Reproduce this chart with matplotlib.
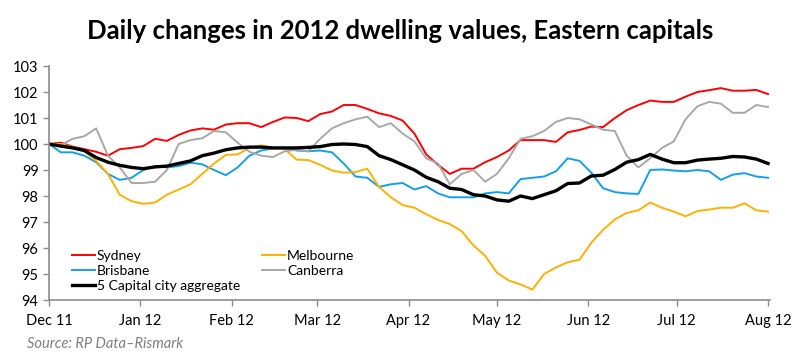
import numpy as np
import pandas as pd
import matplotlib
matplotlib.use("Agg")
import matplotlib.pyplot as plt
import matplotlib.dates as mdates

plt.rcParams['font.family'] = ['Lato', 'DejaVu Sans']

# days since 1 Dec 2011, one reading every 4 days
days = list(range(0, 245, 4))

sydney = [100.0, 100.05, 99.9, 99.8, 99.7, 99.55, 99.8, 99.85, 99.92, 100.2,
          100.12, 100.35, 100.52, 100.6, 100.55, 100.75, 100.8, 100.8, 100.65, 100.85,
          101.02, 101.0, 100.88, 101.15, 101.25, 101.5, 101.5, 101.35, 101.18, 101.08,
          100.9, 100.4, 99.6, 99.2, 98.85, 99.05, 99.05, 99.3, 99.5, 99.75,
          100.15, 100.15, 100.15, 100.08, 100.45, 100.54, 100.67, 100.65, 101.0, 101.3,
          101.5, 101.67, 101.62, 101.62, 101.82, 102.0, 102.07, 102.15, 102.05, 102.05,
          102.08, 101.92]

melbourne = [100.0, 100.0, 99.88, 99.72, 99.35, 98.85, 98.05, 97.8, 97.7, 97.75,
             98.05, 98.25, 98.45, 98.85, 99.25, 99.58, 99.6, 99.85, 99.95, 99.85,
             99.8, 99.4, 99.38, 99.2, 98.98, 98.9, 98.92, 99.05, 98.35, 97.95,
             97.65, 97.55, 97.3, 97.08, 96.92, 96.65, 96.1, 95.7, 95.05, 94.75,
             94.6, 94.4, 95.0, 95.25, 95.45, 95.55, 96.2, 96.7, 97.1, 97.35,
             97.45, 97.75, 97.55, 97.4, 97.22, 97.42, 97.48, 97.55, 97.55, 97.72,
             97.45, 97.4]

brisbane = [100.0, 99.68, 99.68, 99.55, 99.3, 98.85, 98.62, 98.7, 99.0, 99.15,
            99.1, 99.15, 99.28, 99.22, 99.0, 98.8, 99.1, 99.55, 99.75, 99.83,
            99.85, 99.75, 99.72, 99.75, 99.68, 99.25, 98.75, 98.7, 98.35, 98.45,
            98.5, 98.25, 98.38, 98.1, 97.95, 97.95, 97.95, 98.1, 98.15, 98.1,
            98.65, 98.7, 98.75, 98.95, 99.45, 99.35, 98.9, 98.3, 98.15, 98.1,
            98.08, 99.0, 99.02, 98.98, 98.95, 99.0, 98.95, 98.62, 98.82, 98.88,
            98.75, 98.7]

canberra = [100.0, 99.95, 100.2, 100.3, 100.6, 99.55, 99.1, 98.5, 98.5, 98.55,
            99.0, 100.0, 100.15, 100.22, 100.5, 100.45, 100.05, 99.7, 99.55, 99.5,
            99.72, 99.78, 99.72, 100.2, 100.6, 100.8, 100.95, 101.05, 100.65, 100.8,
            100.4, 100.1, 99.45, 99.25, 98.45, 98.85, 99.0, 98.55, 98.85, 99.45,
            100.2, 100.3, 100.5, 100.85, 101.0, 100.95, 100.75, 100.55, 100.5, 99.55,
            99.1, 99.45, 99.85, 100.1, 100.95, 101.45, 101.62, 101.55, 101.2, 101.2,
            101.5, 101.42]

aggregate = [100.0, 99.92, 99.85, 99.75, 99.48, 99.3, 99.18, 99.1, 99.05, 99.12,
             99.15, 99.25, 99.35, 99.55, 99.65, 99.78, 99.85, 99.88, 99.88, 99.85,
             99.85, 99.85, 99.87, 99.9, 99.98, 100.0, 99.98, 99.9, 99.55, 99.4,
             99.2, 99.0, 98.72, 98.55, 98.3, 98.25, 98.05, 98.0, 97.85, 97.8,
             98.0, 97.9, 98.05, 98.2, 98.48, 98.5, 98.77, 98.8, 99.02, 99.3,
             99.4, 99.6, 99.42, 99.28, 99.28, 99.38, 99.42, 99.45, 99.52, 99.5,
             99.42, 99.25]

start = pd.Timestamp('2011-12-01')
dates = start + pd.to_timedelta(days, unit='D')

fig = plt.figure(figsize=(8, 3.61), dpi=100)
ax = fig.add_axes([49 / 800, 1 - 300 / 361, 721 / 800, 234 / 361])

l_syd, = ax.plot(dates, sydney, color='#ff0000', lw=1.4, label='Sydney')
l_bri, = ax.plot(dates, brisbane, color='#14a0e6', lw=1.4, label='Brisbane')
l_mel, = ax.plot(dates, melbourne, color='#ffb000', lw=1.4, label='Melbourne')
l_can, = ax.plot(dates, canberra, color='#a8a8a8', lw=1.4, label='Canberra')
l_agg, = ax.plot(dates, aggregate, color='black', lw=2.4, label='5 Capital city aggregate')

ax.set_ylim(94, 103)
ax.set_yticks(range(94, 104))
ax.set_xlim(start, start + pd.Timedelta(days=244.65))
ax.set_xticks(pd.date_range('2011-12-01', '2012-08-01', freq='MS'))
ax.xaxis.set_major_formatter(mdates.DateFormatter('%b %y'))

for s in ['top', 'right']:
    ax.spines[s].set_visible(False)
for s in ['left', 'bottom']:
    ax.spines[s].set_color('#8c8c8c')
    ax.spines[s].set_linewidth(1.2)
ax.tick_params(axis='both', colors='#8c8c8c', labelcolor='black', labelsize=10.5,
               length=4, width=1)
ax.tick_params(axis='x', pad=6)

ax.legend(handles=[l_syd, l_bri, l_agg, l_mel, l_can], ncol=2, frameon=False,
          loc='lower left', bbox_to_anchor=(0.02, 0.0), fontsize=10,
          handlelength=1.65, handletextpad=0.15, labelspacing=0.22, columnspacing=1.6,
          borderaxespad=0.2)

fig.text(0.5, 0.915, 'Daily changes in 2012 dwelling values, Eastern capitals',
         ha='center', va='center', fontsize=18.5, fontweight='bold')
fig.text(27 / 800, 1 - 344 / 361, 'Source: RP Data\u2013Rismark', ha='left', va='center',
         fontsize=10.5, style='italic', color='#7f7f7f')

fig.savefig('out.png', dpi=100)
